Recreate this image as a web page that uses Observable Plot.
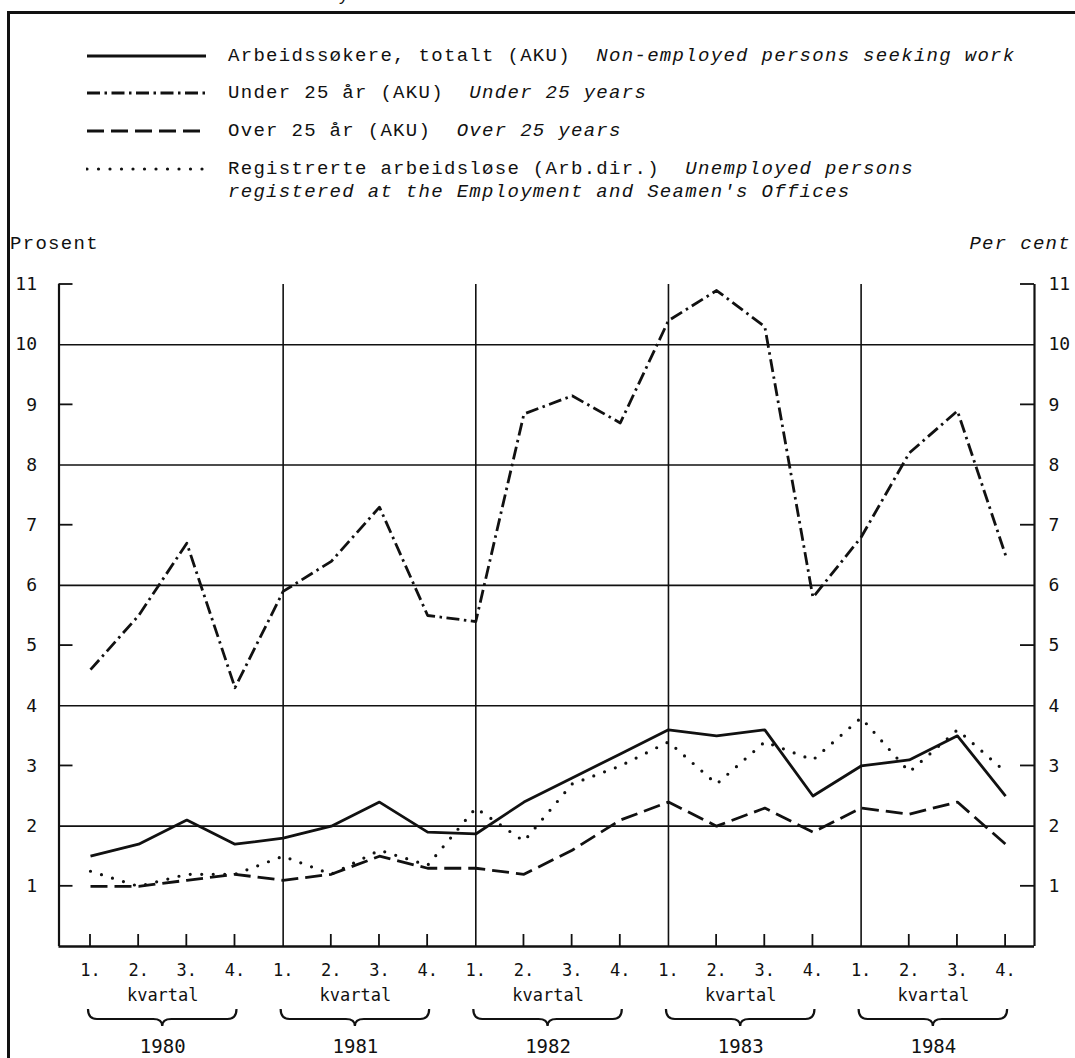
<!DOCTYPE html>
<html>
<head>
<meta charset="utf-8">
<script src="https://cdn.jsdelivr.net/npm/d3@7"></script>
<script src="https://cdn.jsdelivr.net/npm/@observablehq/plot@0.6"></script>
<style>
  html, body { margin: 0; padding: 0; background: #fff; }
  #wrap { position: relative; width: 1075px; height: 1058px; overflow: hidden; background: #fff; }
  #chart { position: absolute; left: 0; top: 0; }
  .frame-top { position: absolute; left: 7px; top: 11px; width: 1068px; height: 3px; background: #111; }
  .frame-left { position: absolute; left: 7px; top: 11px; width: 3px; height: 1047px; background: #111; }
  .lg { position: absolute; left: 0; height: 24px; line-height: 24px; font-family: "Liberation Mono", monospace; font-size: 19px; letter-spacing: 1.3px; color: #111; white-space: pre; }
  .lg svg { position: absolute; left: 86px; top: 0; }
  .lg .t { position: absolute; left: 228px; top: 0; }
  .lg i { font-style: italic; }
  .side { position: absolute; top: 232px; font-family: "Liberation Mono", monospace; font-size: 19px; letter-spacing: 1.3px; color: #111; line-height: 24px; white-space: pre; }
  .cut { position: absolute; left: 338px; top: 0; height: 10px; width: 20px; overflow: hidden; }
  .cut span { position: absolute; left: 0; top: -14px; font-family: "Liberation Mono", monospace; font-size: 19px; line-height: 19px; color: #111; }
</style>
</head>
<body>
<div id="wrap">
  <div id="chart"></div>
  <div class="cut"><span>y</span></div>
  <div class="frame-top"></div>
  <div class="frame-left"></div>
  <div id="legend"></div>
  <div class="side" style="left:10px;">Prosent</div>
  <div class="side" style="right:4px;"><i>Per cent</i></div>
</div>
<script>
// ---- data ----
const years = [1980, 1981, 1982, 1983, 1984];
const quarterLabels = ["1.", "2.", "3.", "4."];
const yTickLabels = [1, 2, 3, 4, 5, 6, 7, 8, 9, 10, 11];
const gridValues = [2, 4, 6, 8, 10];
const minorTicks = [1, 3, 5, 7, 9, 11];

const totalt      = [1.5, 1.7, 2.1, 1.7, 1.8, 2.0, 2.4, 1.9, 1.87, 2.4, 2.8, 3.2, 3.6, 3.5, 3.6, 2.5, 3.0, 3.1, 3.5, 2.5];
const under25     = [4.6, 5.5, 6.7, 4.3, 5.9, 6.4, 7.3, 5.5, 5.4, 8.85, 9.15, 8.7, 10.4, 10.9, 10.3, 5.8, 6.8, 8.2, 8.9, 6.5];
const over25      = [1.0, 1.0, 1.1, 1.2, 1.1, 1.2, 1.5, 1.3, 1.3, 1.2, 1.6, 2.1, 2.4, 2.0, 2.3, 1.9, 2.3, 2.2, 2.4, 1.7];
const registrerte = [1.25, 1.0, 1.2, 1.2, 1.5, 1.2, 1.6, 1.35, 2.3, 1.75, 2.7, 3.0, 3.4, 2.7, 3.4, 3.1, 3.8, 2.9, 3.6, 2.9];

const seriesNames = [
  ["Arbeidssøkere, totalt (AKU)", "Non-employed persons seeking work"],
  ["Under 25 år (AKU)", "Under 25 years"],
  ["Over 25 år (AKU)", "Over 25 years"],
  ["Registrerte arbeidsløse (Arb.dir.)", "Unemployed persons"]
];
const secondLine = "registered at the Employment and Seamen's Offices";

// ---- styles ----
const styles = [
  {width: 2.8, dash: null, cap: "butt"},
  {width: 2.8, dash: "13,4.5,2.5,4.5", cap: "butt"},
  {width: 2.8, dash: "17,7", cap: "butt"},
  {width: 3.2, dash: "0,11.5", cap: "round"}
];
const seriesValues = [totalt, under25, over25, registrerte];

// ---- table ----
const quarters = years.flatMap((yr, k) => quarterLabels.map((q, j) => ({i: k * 4 + j, year: yr, q})));
const rows = seriesValues.map(vals => quarters.map((d, n) => ({i: d.i, v: vals[n]})));

const xDomain = [-0.654, 19.60];
const ink = "#111";
const mono = "DejaVu Sans Mono, monospace";

// custom mark: inward ticks, braces
function decorations(index, scales) {
  const {x, y} = scales;
  const g = d3.create("svg:g").attr("stroke", ink).attr("fill", "none");
  const xl = x(xDomain[0]), xr = x(xDomain[1]);
  for (const v of minorTicks) {
    g.append("line").attr("x1", xl).attr("x2", xl + 14).attr("y1", y(v)).attr("y2", y(v)).attr("stroke-width", 1.8);
    g.append("line").attr("x1", xr).attr("x2", xr - 14).attr("y1", y(v)).attr("y2", y(v)).attr("stroke-width", 1.8);
  }
  for (const d of quarters) {
    if (d.q === "1." && d.year !== 1980) continue;
    g.append("line").attr("x1", x(d.i)).attr("x2", x(d.i)).attr("y1", y(0)).attr("y2", y(0) - 12).attr("stroke-width", 1.8);
  }
  const yb = y(0);
  years.forEach((yr, k) => {
    const a = x(4 * k) - 2, b = x(4 * k + 3) + 2, m = (a + b) / 2;
    const top = yb + 63, mid = yb + 73, tip = yb + 80;
    g.append("path")
      .attr("stroke-width", 2.2)
      .attr("d", `M${a},${top} Q${a},${mid} ${a + 9},${mid} L${m - 9},${mid} Q${m},${mid} ${m},${tip} Q${m},${mid} ${m + 9},${mid} L${b - 9},${mid} Q${b},${mid} ${b},${top}`);
  });
  return g.node();
}

const yearCenters = years.map((yr, k) => ({yr, c: 4 * k + 1.5}));

const plot = Plot.plot({
  width: 1075,
  height: 1058,
  marginTop: 284,
  marginBottom: 112,
  marginLeft: 58.5,
  marginRight: 41,
  x: {domain: xDomain, axis: null},
  y: {domain: [0, 11], axis: null},
  style: {background: "transparent", color: ink},
  marks: [
    Plot.ruleY(gridValues, {stroke: ink, strokeWidth: 1.6}),
    Plot.ruleX(years.slice(1).map((yr, k) => 4 * (k + 1)), {stroke: ink, strokeWidth: 1.6}),
    Plot.ruleX([xDomain[0], xDomain[1]], {y1: 0, y2: 11, stroke: ink, strokeWidth: 2.2}),
    Plot.ruleY([0], {stroke: ink, strokeWidth: 2.4}),
    decorations,
    ...rows.map((r, s) => Plot.line(r, {x: "i", y: "v", stroke: ink, strokeWidth: styles[s].width,
      strokeDasharray: styles[s].dash, strokeLinecap: styles[s].cap, strokeLinejoin: "round"})),
    Plot.text(yTickLabels, {x: () => xDomain[0], y: d => d, text: d => String(d), dx: -22, textAnchor: "end",
      fontFamily: mono, fontSize: 18, fill: ink}),
    Plot.text(yTickLabels, {x: () => xDomain[1], y: d => d, text: d => String(d), dx: 14, textAnchor: "start",
      fontFamily: mono, fontSize: 18, fill: ink}),
    Plot.text(quarters, {x: "i", y: () => 0, text: "q", dy: 24, textAnchor: "middle", fontFamily: mono, fontSize: 17, fill: ink}),
    Plot.text(yearCenters, {x: "c", y: () => 0, text: () => "kvartal", dy: 49, textAnchor: "middle", fontFamily: mono, fontSize: 17, fill: ink, style: "letter-spacing:2.4px"}),
    Plot.text(yearCenters, {x: "c", y: () => 0, text: d => String(d.yr), dy: 100, textAnchor: "middle", fontFamily: mono, fontSize: 19, fill: ink, style: "letter-spacing:1px"})
  ]
});
document.getElementById("chart").appendChild(plot);

// ---- legend ----
const legend = document.getElementById("legend");
const rowCenters = [56, 93, 131, 169];
seriesNames.forEach((nm, s) => {
  const div = document.createElement("div");
  div.className = "lg";
  div.style.top = (rowCenters[s] - 12) + "px";
  const st = styles[s];
  div.innerHTML = `<svg width="122" height="24"><line x1="1" x2="120" y1="12" y2="12" stroke="${ink}" stroke-width="${st.width}" ${st.dash ? `stroke-dasharray="${st.dash}"` : ""} stroke-linecap="${st.cap}"/></svg><span class="t">${nm[0]}  <i>${nm[1]}</i></span>`;
  legend.appendChild(div);
});
const d2 = document.createElement("div");
d2.className = "lg";
d2.style.top = (192 - 12) + "px";
d2.innerHTML = `<span class="t"><i>${secondLine}</i></span>`;
legend.appendChild(d2);
</script>
</body>
</html>
